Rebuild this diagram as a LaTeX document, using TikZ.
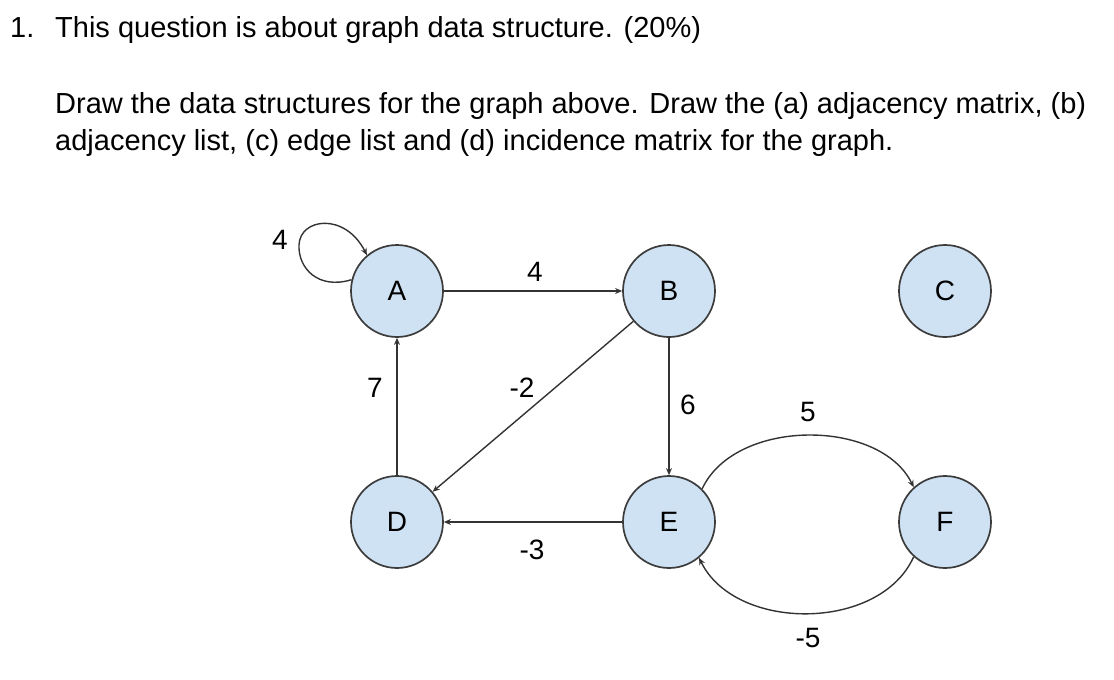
\documentclass[tikz,border=0pt]{standalone}
\usepackage{fontspec}
\setmainfont{Liberation Sans}
\usetikzlibrary{arrows.meta}
\definecolor{nodefill}{HTML}{CFE2F3}
\definecolor{nodeline}{HTML}{3C3C3C}
\definecolor{edgecol}{HTML}{333333}
\begin{document}
\begin{tikzpicture}[x=1pt,y=-1pt,
  vert/.style={circle,draw=nodeline,fill=nodefill,line width=1.7pt,minimum size=92pt,inner sep=0pt,font=\fontsize{28}{28}\selectfont},
  edge/.style={draw=edgecol,line width=1.4pt,-{Stealth[length=7pt,width=6pt]}},
  lab/.style={font=\fontsize{28}{28}\selectfont,inner sep=0pt},
  txt/.style={font=\fontsize{29}{29}\selectfont,inner sep=0pt,anchor=base west}]
\useasboundingbox (0,0) rectangle (1114,680);
\node[txt] (t1) at (10,37) {1.};
\node[txt] (t2) at (55,37) {This question is about graph data structure. (20\%)};
\node[txt] (t3) at (55,113) {Draw the data structures for the graph above. Draw the (a) adjacency matrix, (b)};
\node[txt] (t4) at (55,150) {adjacency list, (c) edge list and (d) incidence matrix for the graph.};
\node[vert] (A) at (397,291) {A};
\node[vert] (B) at (669,291) {B};
\node[vert] (C) at (945,291) {C};
\node[vert] (D) at (397,522) {D};
\node[vert] (E) at (669,522) {E};
\node[vert] (F) at (945,522) {F};
\draw[edge] (A) -- (B);
\draw[edge] (D) -- (A);
\draw[edge] (B) -- (D);
\draw[edge] (B) -- (E);
\draw[edge] (E) -- (D);
\draw[edge] (E.45) .. controls (735,418) and (880,418) .. (F.132);
\draw[edge] (F.228) .. controls (880,632) and (735,632) .. (E.310);
\draw[edge] (A.166) .. controls (318,290) and (298,268) .. (299,245) .. controls (300,218) and (345,212) .. (A.130);
\node[lab] (l1) at (280,240) {4};
\node[lab] (l2) at (535,272) {4};
\node[lab] (l3) at (375,388) {7};
\node[lab] (l4) at (522,388) {-2};
\node[lab] (l5) at (688,405) {6};
\node[lab] (l6) at (808,412) {5};
\node[lab] (l7) at (532,550) {-3};
\node[lab] (l8) at (808,638) {-5};
\end{tikzpicture}
\end{document}
